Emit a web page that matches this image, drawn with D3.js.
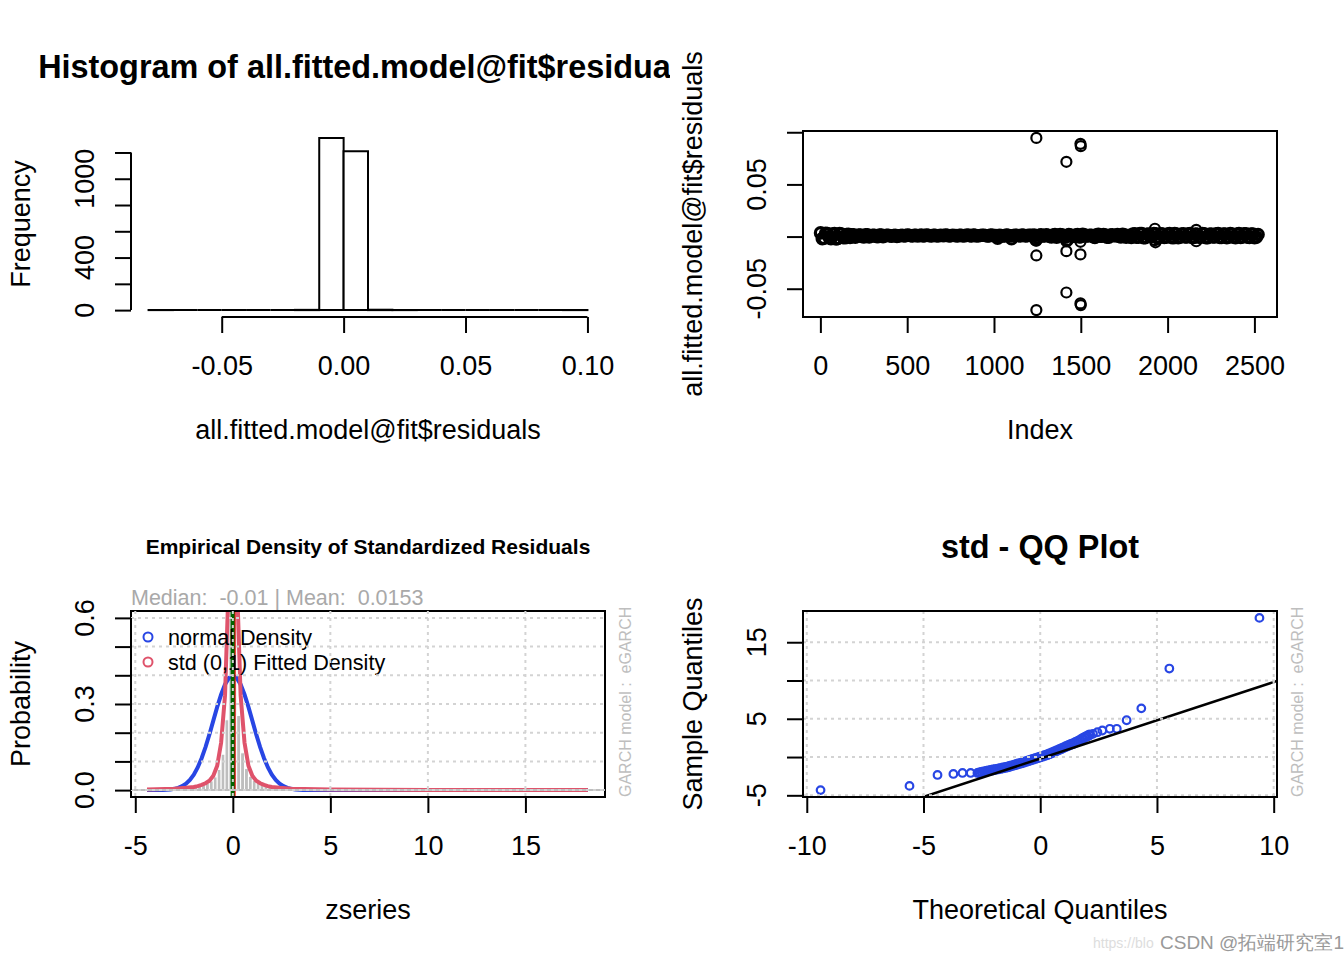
<!DOCTYPE html>
<html>
<head>
<meta charset="utf-8">
<script src="https://cdnjs.cloudflare.com/ajax/libs/d3/7.8.5/d3.min.js"></script>
<style>
  body { margin: 0; background: #fff; }
  text { font-family: "Liberation Sans", Arial, sans-serif; }
</style>
</head>
<body>
<div id="chart"></div>
<script>
// ---- data ----

// histogram of residuals (bins of 0.01)
var histBreaks = [-0.08, -0.07, -0.06, -0.05, -0.04, -0.03, -0.02, -0.01, 0.00, 0.01, 0.02, 0.03, 0.04, 0.05, 0.06, 0.07, 0.08, 0.09, 0.10];
var histCounts = [1, 0, 0, 0, 0, 0, 2, 1311, 1210, 3, 1, 0, 0, 0, 0, 0, 0, 1];
var histXTicks = [-0.05, 0, 0.05, 0.10];
var histXLabels = ["-0.05", "0.00", "0.05", "0.10"];
var histYTicks = [0, 200, 400, 600, 800, 1000, 1200];
var histYLabels = ["0", "", "400", "", "", "1000", ""];

// residuals vs index: dense band sampled every 20 obs (two interleaved runs, in 1/1000), plus the outliers
var nObs = 2529;
var bandStep = 20;
var bandVals = [3.5, -1.5, 2.8, -2.0, 3.0, -1.8, 2.5, -1.2, 2.2,
  1.8, -0.5, 1.5, 0, 1.6, -0.3, 1.2, 0.2, 1.5, -0.2, 1.3, 0.5, 1.0, 0.2,
  1, 0.6, 1.4, 0.8, 1.2, 0.5, 1.5, 0.9, 1.1, 0.6, 1.3, 0.8, 1.0, 1.4, 0.7, 1.2, 0.9, 1.3, 0.5, 1.1,
  0.8, 1.4, 0.6, 1.0, 1.2, 0.7, 1.5, 0.9, -1.5, 1.0, 0.6, 1.3, -2.0, 1.1, 0.8, 1.4, 0.7, 1.2, 0.9,
  -3.0, 1.2, 0.5, 1.8, 0.2, 1.5, -0.5, 2.0, 0.8, -3.5, 1.4, 0.3, 1.9, -0.2, 1.6, 0.6, 1.2, -0.8,
  2.1, 0.4, 1.5, -0.6, 1.8, 0.9, 0.1, 2.2, -0.7, 1.3,
  2.5, -0.5, 2.8, -1.0, 2.2, 0.0, 3.0, -1.2, 2.6, -0.8, 2.4, -0.6, 2.9, -1.1, 2.3, -0.4, 2.7, -0.9,
  2.5, -0.7, 2.8, -1.0, 2.2, -0.3, 2.6, -0.8, 2.4, -1.1, 2.9, -0.5, 2.3, -0.9, 2.7, -0.6, 2.5, -1.0, 2.0];
var bandVals2 = [-2.0, 3.2, -1.0, 2.5, -2.2, 2.8, -0.8, 2.0,
  -0.8, 1.7, 0.3, 1.4, -0.4, 1.6, 0.4, 1.1, -0.1, 1.4, 0.6, 1.2, 0.3, 1.3,
  0.7, 1.2, 0.9, 1.3, 0.6, 1.1, 1.0, 0.7, 1.4, 0.8, 1.2, 0.6, 1.1, 0.9, 1.3, 0.8, 1.0, 0.6, 1.2,
  0.9, 1.4, 0.7, 1.1, 0.8, 1.3, 1.0, 0.6, 1.2, 0.9, 1.1, 0.7, 1.4, 0.8, 1.0, 1.2, 0.6, 1.3, 0.9, 1.1,
  1.5, -1.0, 1.8, 0.6, 1.3, -0.3, 2.0, 0.5, 1.6, -0.6, 1.9, 0.2, 1.4, -0.4, 2.1, 0.7, 1.2, -0.2,
  1.7, 0.4, 1.9, -0.5, 1.5, 0.8, 2.0, -0.3, 1.6, 0.5,
  -0.8, 2.6, -0.6, 2.9, -1.0, 2.4, -0.2, 2.7, -0.9, 2.3, -0.5, 2.8, -1.2, 2.5, -0.7, 2.6, -0.4, 3.0,
  -0.8, 2.2, -0.6, 2.7, -1.0, 2.4, -0.3, 2.9, -0.9, 2.5, -0.6, 2.3, -1.1, 2.8, -0.4, 2.6, -0.8, 2.4, -0.5];
var outIdx = [1244, 1498, 1500, 1417, 1244, 1417, 1498, 1417, 1498, 1500, 1244, 1244, 1417, 1498, 1927, 1927, 1930, 2165, 2165];
var outVal = [0.0946, 0.0889, 0.0867, 0.0717, -0.0181, -0.0140, -0.0171, -0.0536, -0.0641, -0.0657, -0.0705,
  -0.004, -0.0045, -0.005, 0.0075, -0.0035, -0.0055, 0.0065, -0.0045];
var idxXTicks = [0, 500, 1000, 1500, 2000, 2500];
var idxYTicks = [-0.05, 0, 0.05, 0.10];
var idxYLabels = ["-0.05", "", "0.05", ""];

// empirical density of standardized residuals
var zMin = -4.32, zMax = 18.18;
var densBinX0 = [-4.4, -3.8, -2.8, -2.4, -2.2, -2.0, -1.8, -1.6, -1.4, -1.2, -1.0, -0.8, -0.6, -0.4, -0.2,
  0.0, 0.2, 0.4, 0.6, 0.8, 1.0, 1.2, 1.4, 1.6, 1.8, 2.0, 2.2, 2.6, 3.0, 3.6, 4.2, 5.4, 18.0];
var densBinY = [0.002, 0.002, 0.004, 0.006, 0.008, 0.010, 0.014, 0.018, 0.024, 0.032, 0.046, 0.072, 0.125, 0.245, 1.30,
  1.42, 0.26, 0.13, 0.075, 0.048, 0.034, 0.025, 0.019, 0.015, 0.011, 0.008, 0.006, 0.004, 0.004, 0.002, 0.002, 0.002, 0.002];
var binWidth = 0.2;
var normX = [-4.4, -3.6, -3.2, -3.0, -2.8, -2.6, -2.4, -2.2, -2.0, -1.8, -1.6, -1.4, -1.2, -1.0, -0.8, -0.6, -0.4, -0.2,
  0, 0.2, 0.4, 0.6, 0.8, 1.0, 1.2, 1.4, 1.6, 1.8, 2.0, 2.2, 2.4, 2.6, 2.8, 3.0, 3.2, 3.6, 4.4, 18.2];
var normY = [0.00003, 0.0006, 0.0024, 0.0044, 0.0079, 0.0136, 0.0224, 0.0355, 0.054, 0.079, 0.111, 0.150, 0.194, 0.242, 0.290, 0.333, 0.368, 0.391,
  0.399, 0.391, 0.368, 0.333, 0.290, 0.242, 0.194, 0.150, 0.111, 0.079, 0.054, 0.0355, 0.0224, 0.0136, 0.0079, 0.0044, 0.0024, 0.0006, 0.00003, 0];
var stdX = [-4.4, -3.0, -2.4, -2.0, -1.8, -1.6, -1.4, -1.2, -1.0, -0.8, -0.6, -0.4, -0.2, 0, 0.2, 0.4, 0.6, 0.8, 1.0, 1.2, 1.4, 1.6, 1.8,
  2.0, 2.4, 3.0, 5.0, 10.0, 18.2];
var stdY = [0.002, 0.005, 0.008, 0.011, 0.014, 0.018, 0.024, 0.033, 0.05, 0.085, 0.165, 0.33, 0.75, 1.6, 0.75, 0.33, 0.165, 0.085, 0.05, 0.033, 0.024, 0.018, 0.014,
  0.011, 0.008, 0.005, 0.002, 0.0005, 0.0001];
var zMean = 0.0153, zMedian = -0.01;
var densXTicks = [-5, 0, 5, 10, 15];
var densYTicks = [0, 0.1, 0.2, 0.3, 0.4, 0.5, 0.6];
var densYLabels = ["0.0", "", "", "0.3", "", "", "0.6"];
var legendLabels = ["normal Density", "std (0,1) Fitted Density"];

// std QQ plot
var qqTailX = [-9.41, -5.60, -4.40, -3.72, -3.33, -2.98, -2.69, 2.26, 2.45, 2.66, 2.98, 3.28, 3.70, 4.33, 5.53, 9.39];
var qqTailY = [-4.32, -3.77, -2.34, -2.21, -2.08, -2.08, -2.08, 3.04, 3.25, 3.47, 3.69, 3.69, 4.81, 6.36, 11.56, 18.18];
var qqBandX = [-2.6, -2.5, -2.4, -2.3, -2.2, -2.1, -2.0, -1.9, -1.8, -1.7, -1.6, -1.5, -1.4, -1.3, -1.2, -1.1, -1.0, -0.9, -0.8, -0.7,
  -0.6, -0.5, -0.4, -0.3, -0.2, -0.1, 0, 0.1, 0.2, 0.3, 0.4, 0.5, 0.6, 0.7, 0.8, 0.9, 1.0, 1.1, 1.2, 1.3, 1.4, 1.5, 1.6, 1.7, 1.8, 1.9, 2.0, 2.1];
var qqBandY = [-2.04, -1.98, -1.92, -1.85, -1.78, -1.72, -1.66, -1.60, -1.54, -1.48, -1.42, -1.36, -1.29, -1.20, -1.11, -1.02, -0.94, -0.85, -0.76, -0.66,
  -0.56, -0.47, -0.37, -0.28, -0.18, -0.08, 0.02, 0.12, 0.22, 0.32, 0.44, 0.56, 0.69, 0.82, 0.96, 1.10, 1.24, 1.38, 1.51, 1.64, 1.76, 1.90, 2.05, 2.22, 2.40, 2.58, 2.74, 2.90];
var qqLine = {intercept: -0.2, slope: 1.0};
var qqXTicks = [-10, -5, 0, 5, 10];
var qqYTicks = [-5, 0, 5, 10, 15];
var qqYLabels = ["-5", "", "5", "", "15"];

// ---- layout ----
var width = 1344, height = 960;
var plot = {left: 131, right: 605, top: 131, bottom: 317};
var FONT = "Liberation Sans, Arial, sans-serif";
var base = 27;   // cex = 1 in pixels
var blue = "#2846E4", red = "#DF536B";

var svg = d3.select("#chart").append("svg")
    .attr("width", width)
    .attr("height", height)
    .style("background", "#fff");

// R style axis range: data range plus 4% on each side
function rRange(lo, hi) {
    var r = hi - lo;
    return [lo - 0.04 * r, hi + 0.04 * r];
}

function panel(dx, dy, id) {
    var g = svg.append("g").attr("transform", "translate(" + dx + "," + dy + ")");
    g.append("clipPath").attr("id", id)
        .append("rect")
        .attr("x", plot.left).attr("y", plot.top)
        .attr("width", plot.right - plot.left)
        .attr("height", plot.bottom - plot.top);
    return g;
}

function xAxis(g, x, ticks, labels) {
    var ax = g.append("g")
        .attr("transform", "translate(0," + plot.bottom + ")")
        .call(d3.axisBottom(x).tickValues(ticks).tickSize(16).tickSizeOuter(0).tickPadding(23)
            .tickFormat(function(d, i) { return labels ? labels[i] : String(d); }))
        .attr("font-size", base)
        .attr("font-family", FONT);
    ax.select(".domain").remove();
    ax.selectAll(".tick line").attr("stroke-width", 2);
    ax.append("line")
        .attr("x1", x(ticks[0])).attr("x2", x(ticks[ticks.length - 1]))
        .attr("stroke", "#000").attr("stroke-width", 2);
}

function yAxis(g, y, ticks, labels) {
    var ax = g.append("g")
        .attr("transform", "translate(" + plot.left + ",0)")
        .call(d3.axisLeft(y).tickValues(ticks).tickSize(16).tickSizeOuter(0).tickFormat(""));
    ax.select(".domain").remove();
    ax.selectAll(".tick line").attr("stroke-width", 2);
    ax.append("line")
        .attr("y1", y(ticks[0])).attr("y2", y(ticks[ticks.length - 1]))
        .attr("stroke", "#000").attr("stroke-width", 2);
    // labels are rotated, parallel to the axis
    g.selectAll(null)
        .data(ticks.map(function(t, i) { return {t: t, lab: labels[i]}; }).filter(function(d) { return d.lab !== ""; }))
        .enter()
        .append("text")
        .attr("transform", function(d) { return "translate(" + (plot.left - 46) + "," + y(d.t) + ") rotate(-90)"; })
        .attr("dy", "0.35em")
        .attr("text-anchor", "middle")
        .attr("font-size", base)
        .text(function(d) { return d.lab; });
}

function axisTitles(g, xlab, ylab) {
    g.append("text")
        .attr("x", (plot.left + plot.right) / 2)
        .attr("y", 430)
        .attr("dy", "0.35em")
        .attr("text-anchor", "middle")
        .attr("font-size", base)
        .text(xlab);
    g.append("text")
        .attr("transform", "translate(21," + ((plot.top + plot.bottom) / 2) + ") rotate(-90)")
        .attr("dy", "0.35em")
        .attr("text-anchor", "middle")
        .attr("font-size", base)
        .text(ylab);
}

function box(g) {
    g.append("rect")
        .attr("x", plot.left).attr("y", plot.top)
        .attr("width", plot.right - plot.left)
        .attr("height", plot.bottom - plot.top)
        .attr("fill", "none").attr("stroke", "#000").attr("stroke-width", 2);
}

function grid(g, x, y, xt, yt) {
    var gg = g.append("g").attr("stroke", "#D3D3D3").attr("stroke-width", 2).attr("stroke-dasharray", "3,4");
    gg.selectAll(null).data(xt).enter().append("line")
        .attr("x1", function(d) { return x(d); }).attr("x2", function(d) { return x(d); })
        .attr("y1", plot.top).attr("y2", plot.bottom);
    gg.selectAll(null).data(yt).enter().append("line")
        .attr("y1", function(d) { return y(d); }).attr("y2", function(d) { return y(d); })
        .attr("x1", plot.left).attr("x2", plot.right);
}

function sideNote(g) {
    g.append("text")
        .attr("transform", "translate(625," + plot.bottom + ") rotate(-90)")
        .attr("dy", "0.35em")
        .attr("font-size", 16)
        .attr("fill", "#BEBEBE")
        .style("white-space", "pre")
        .text("GARCH model :  eGARCH");
}

// ---- 1. histogram of residuals ----
var p1 = panel(0, 0, "clip1");
p1.append("clipPath").attr("id", "fig1").append("rect").attr("width", 670).attr("height", 480);

var x1 = d3.scaleLinear().domain(rRange(histBreaks[0], histBreaks[histBreaks.length - 1])).range([plot.left, plot.right]);
var y1 = d3.scaleLinear().domain(rRange(0, d3.max(histCounts))).range([plot.bottom, plot.top]);

p1.append("g")
    .selectAll("path")
    .data(histCounts)
    .enter()
    .append("path")
    .attr("d", function(d, i) {
        var a = x1(histBreaks[i]), b = x1(histBreaks[i + 1]);
        return "M" + a + "," + y1(0) + "V" + y1(d) + "H" + b + "V" + y1(0) + "Z";
    })
    .attr("fill", "#fff")
    .attr("stroke", "#000")
    .attr("stroke-width", 2);

xAxis(p1, x1, histXTicks, histXLabels);
yAxis(p1, y1, histYTicks, histYLabels);
axisTitles(p1, "all.fitted.model@fit$residuals", "Frequency");
p1.append("text")
    .attr("clip-path", "url(#fig1)")
    .attr("x", (plot.left + plot.right) / 2)
    .attr("y", 78)
    .attr("text-anchor", "middle")
    .attr("font-size", base * 1.2)
    .attr("font-weight", "bold")
    .text("Histogram of all.fitted.model@fit$residuals");

// ---- 2. residuals vs index ----
var p2 = panel(672, 0, "clip2");
var x2 = d3.scaleLinear().domain(rRange(1, nObs)).range([plot.left, plot.right]);
var y2 = d3.scaleLinear().domain(rRange(d3.min(outVal), d3.max(outVal))).range([plot.bottom, plot.top]);

var bandPoints = bandVals.map(function(v, i) { return {i: 1 + i * bandStep, v: v / 1000}; })
    .concat(bandVals2.map(function(v, i) { return {i: 11 + i * bandStep, v: v / 1000}; }));
var outPoints = outIdx.map(function(d, i) { return {i: d, v: outVal[i]}; });

var c2 = p2.append("g").attr("clip-path", "url(#clip2)");
// the dense run of overlapping circles
c2.selectAll("circle.band")
    .data(bandPoints)
    .enter()
    .append("circle")
    .attr("class", "band")
    .attr("cx", function(d) { return x2(d.i); })
    .attr("cy", function(d) { return y2(d.v); })
    .attr("r", 5.2)
    .attr("fill", "none")
    .attr("stroke", "#000")
    .attr("stroke-width", 3.2);
c2.selectAll("circle.out")
    .data(outPoints)
    .enter()
    .append("circle")
    .attr("class", "out")
    .attr("cx", function(d) { return x2(d.i); })
    .attr("cy", function(d) { return y2(d.v); })
    .attr("r", 5)
    .attr("fill", "none")
    .attr("stroke", "#000")
    .attr("stroke-width", 2.2);

box(p2);
xAxis(p2, x2, idxXTicks);
yAxis(p2, y2, idxYTicks, idxYLabels);
axisTitles(p2, "Index", "all.fitted.model@fit$residuals");

// ---- 3. empirical density ----
var p3 = panel(0, 480, "clip3");
var x3 = d3.scaleLinear().domain(rRange(zMin, zMax)).range([plot.left, plot.right]);
var y3 = d3.scaleLinear().domain(rRange(0, 0.6)).range([plot.bottom, plot.top]);
var c3 = p3.append("g").attr("clip-path", "url(#clip3)");

c3.selectAll("rect")
    .data(densBinY)
    .enter()
    .append("rect")
    .attr("x", function(d, i) { return x3(densBinX0[i]); })
    .attr("y", function(d) { return y3(d); })
    .attr("width", function(d, i) { return x3(densBinX0[i] + binWidth) - x3(densBinX0[i]); })
    .attr("height", function(d) { return y3(0) - y3(d); })
    .attr("fill", "#BEBEBE")
    .attr("stroke", "#fff")
    .attr("stroke-width", 1);

box(p3);

var line3 = d3.line().x(function(d) { return x3(d[0]); }).y(function(d) { return y3(d[1]); });
c3.append("path")
    .datum(normX.map(function(d, i) { return [d, normY[i]]; }))
    .attr("d", line3)
    .attr("fill", "none").attr("stroke", blue).attr("stroke-width", 4);
c3.append("path")
    .datum(stdX.map(function(d, i) { return [d, stdY[i]]; }))
    .attr("d", line3)
    .attr("fill", "none").attr("stroke", red).attr("stroke-width", 4);

c3.append("line")
    .attr("x1", x3(zMean) + 1).attr("x2", x3(zMean) + 1)
    .attr("y1", plot.top).attr("y2", plot.bottom)
    .attr("stroke", "#FF0000").attr("stroke-width", 3);
c3.append("line")
    .attr("x1", x3(zMedian)).attr("x2", x3(zMedian))
    .attr("y1", plot.top).attr("y2", plot.bottom)
    .attr("stroke", "#006400").attr("stroke-width", 4);

p3.append("text")
    .attr("x", plot.left)
    .attr("y", 125)
    .attr("font-size", 21.5)
    .attr("fill", "#A9A9A9")
    .style("white-space", "pre")
    .text("Median:  " + zMedian + " | Mean:  " + zMean);
sideNote(p3);

p3.append("line")
    .attr("x1", plot.left).attr("x2", plot.right)
    .attr("y1", y3(0)).attr("y2", y3(0))
    .attr("stroke", "#BEBEBE").attr("stroke-width", 2);

// legend
var lg = p3.append("g")
    .selectAll("g")
    .data(legendLabels)
    .enter()
    .append("g")
    .attr("transform", function(d, i) { return "translate(148," + (157 + i * 25) + ")"; });
lg.append("circle")
    .attr("r", 4.5)
    .attr("fill", "none")
    .attr("stroke", function(d, i) { return i === 0 ? blue : red; })
    .attr("stroke-width", 2);
lg.append("text")
    .attr("x", 20)
    .attr("dy", "0.35em")
    .attr("font-size", base * 0.8)
    .text(function(d) { return d; });

grid(p3, x3, y3, densXTicks, densYTicks);
xAxis(p3, x3, densXTicks);
yAxis(p3, y3, densYTicks, densYLabels);
axisTitles(p3, "zseries", "Probability");
p3.append("text")
    .attr("x", (plot.left + plot.right) / 2)
    .attr("y", 67)
    .attr("dy", "0.35em")
    .attr("text-anchor", "middle")
    .attr("font-size", 21)
    .attr("font-weight", "bold")
    .text("Empirical Density of Standardized Residuals");

// ---- 4. std QQ plot ----
var p4 = panel(672, 480, "clip4");
var x4 = d3.scaleLinear().domain(rRange(d3.min(qqTailX), d3.max(qqTailX))).range([plot.left, plot.right]);
var y4 = d3.scaleLinear().domain(rRange(d3.min(qqTailY), d3.max(qqTailY))).range([plot.bottom, plot.top]);
var c4 = p4.append("g").attr("clip-path", "url(#clip4)");

grid(p4, x4, y4, qqXTicks, qqYTicks);

c4.selectAll("circle.band")
    .data(qqBandX.map(function(d, i) { return [d, qqBandY[i]]; }))
    .enter()
    .append("circle")
    .attr("class", "band")
    .attr("cx", function(d) { return x4(d[0]); })
    .attr("cy", function(d) { return y4(d[1]); })
    .attr("r", 4)
    .attr("fill", "none")
    .attr("stroke", blue)
    .attr("stroke-width", 2.8);
c4.selectAll("circle.tail")
    .data(qqTailX.map(function(d, i) { return [d, qqTailY[i]]; }))
    .enter()
    .append("circle")
    .attr("class", "tail")
    .attr("cx", function(d) { return x4(d[0]); })
    .attr("cy", function(d) { return y4(d[1]); })
    .attr("r", 3.8)
    .attr("fill", "none")
    .attr("stroke", blue)
    .attr("stroke-width", 2.2);

var xd = x4.domain();
c4.append("line")
    .attr("x1", x4(xd[0])).attr("y1", y4(qqLine.intercept + qqLine.slope * xd[0]))
    .attr("x2", x4(xd[1])).attr("y2", y4(qqLine.intercept + qqLine.slope * xd[1]))
    .attr("stroke", "#000").attr("stroke-width", 2.5);

box(p4);
sideNote(p4);
xAxis(p4, x4, qqXTicks);
yAxis(p4, y4, qqYTicks, qqYLabels);
axisTitles(p4, "Theoretical Quantiles", "Sample Quantiles");
p4.append("text")
    .attr("x", (plot.left + plot.right) / 2)
    .attr("y", 67)
    .attr("dy", "0.35em")
    .attr("text-anchor", "middle")
    .attr("font-size", base * 1.2)
    .attr("font-weight", "bold")
    .text("std - QQ Plot");

// ---- watermark ----
svg.append("text")
    .attr("x", 1093).attr("y", 948)
    .attr("font-size", 14)
    .attr("fill", "#DDDDDD")
    .text("https://blo");
svg.append("text")
    .attr("x", 1160).attr("y", 949)
    .attr("font-size", 19)
    .attr("font-family", "Noto Sans CJK SC, Liberation Sans, sans-serif")
    .attr("fill", "#999999")
    .text("CSDN @拓端研究室1");
</script>
</body>
</html>
